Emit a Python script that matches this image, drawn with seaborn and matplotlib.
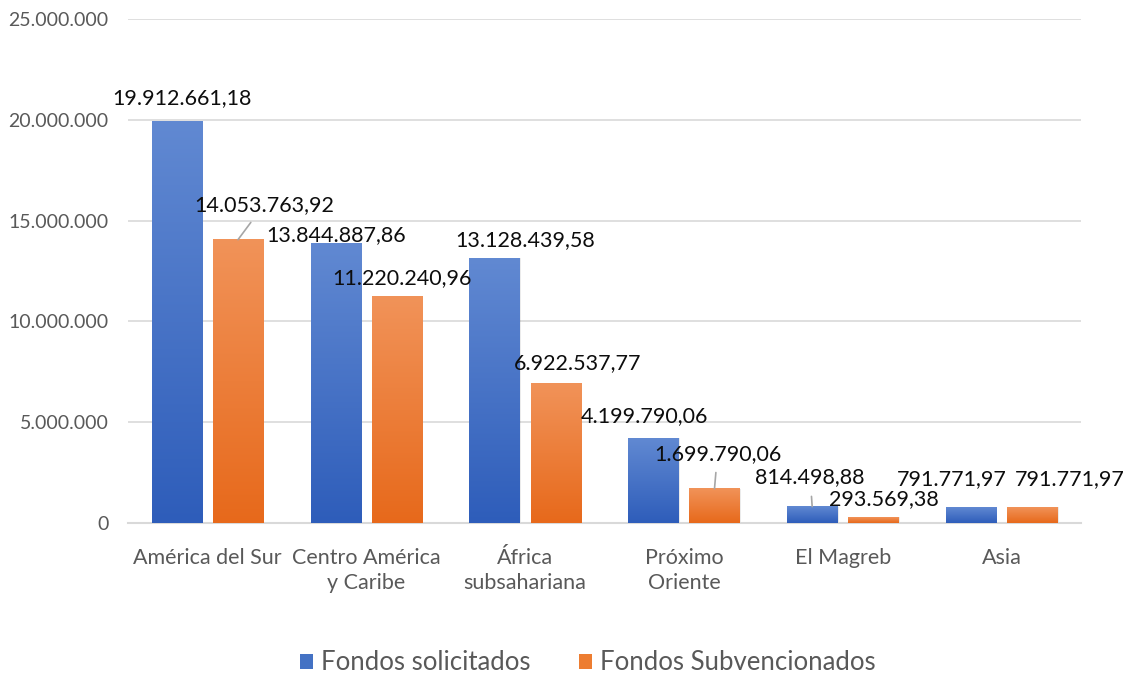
import numpy as np
import pandas as pd
import matplotlib
matplotlib.use("Agg")
import matplotlib.pyplot as plt
import seaborn as sns
from matplotlib.colors import LinearSegmentedColormap
from matplotlib.ticker import FuncFormatter, MultipleLocator
from matplotlib.patches import Patch

# ---------------- data ----------------
categories = ["América del Sur", "Centro América\ny Caribe", "África\nsubsahariana",
              "Próximo\nOriente", "El Magreb", "Asia"]
series_names = ["Fondos solicitados", "Fondos Subvencionados"]
solicitados = [19912661.18, 13844887.86, 13128439.58, 4199790.06, 814498.88, 791771.97]
subvencionados = [14053763.92, 11220240.96, 6922537.77, 1699790.06, 293569.38, 791771.97]

# ---------------- style ----------------
sns.set_style("white")
plt.rcParams["font.family"] = ["Lato", "DejaVu Sans"]

blue_top, blue_bot = "#6189D2", "#2E5DBA"
orange_top, orange_bot = "#F19359", "#E7691B"
grid_col = "#D9D9D9"
tick_col = "#595959"

# label offsets in pixels (dx, dy up) and leader-line flags
offsets = [
    [(5, 23), (0, 9), (31, 18), (-9, 22), (-2, 29), (-19, 28)],
    [(26, 35), (5, 19), (22, 20), (3, 35), (11, 18), (38, 28)],
]
leaders = [
    [False, False, False, False, True, False],
    [True, False, False, True, False, False],
]

df = pd.DataFrame({
    "region": categories * 2,
    "serie": [series_names[0]] * len(categories) + [series_names[1]] * len(categories),
    "valor": solicitados + subvencionados,
})

fig = plt.figure(figsize=(11.28, 6.75), dpi=100)
ax = fig.add_axes([128 / 1128, 1 - 523 / 675, (1081 - 128) / 1128, (523 - 19) / 675])

sns.barplot(data=df, x="region", y="valor", hue="serie", order=categories,
            hue_order=series_names, palette=[blue_bot, orange_bot],
            width=0.77, gap=0.18, errorbar=None, legend=False, ax=ax,
            linewidth=0, zorder=3)

grads = [LinearSegmentedColormap.from_list("b", [blue_bot, blue_top]),
         LinearSegmentedColormap.from_list("o", [orange_bot, orange_top])]
gvals = np.linspace(0, 1, 256).reshape(-1, 1)

def fmt_es(v):
    s = f"{v:,.2f}"
    return s.replace(",", "X").replace(".", ",").replace("X", ".")

for si, cont in enumerate(ax.containers):
    vals = solicitados if si == 0 else subvencionados
    for bi, patch in enumerate(cont.patches):
        x, w, h = patch.get_x(), patch.get_width(), patch.get_height()
        # soft shadow
        ax.add_patch(plt.Rectangle((x + 0.008, 0), w, h, color="#000000", alpha=0.08,
                                   zorder=2, linewidth=0))
        ax.imshow(gvals, extent=[x, x + w, 0, h], origin="lower", aspect="auto",
                  cmap=grads[si], zorder=4)
        xc = x + w / 2
        dx, dy = offsets[si][bi]
        arrow = None
        if leaders[si][bi]:
            arrow = dict(arrowstyle="-", color="#A6A6A6", lw=1.2,
                         shrinkA=4, shrinkB=0)
        ax.annotate(fmt_es(vals[bi]), xy=(xc, h), xytext=(dx, dy),
                    textcoords="offset pixels", ha="center", va="center",
                    fontsize=15.5, color="#0D0D0D", zorder=6, arrowprops=arrow)

ax.set_xlim(-0.5, len(categories) - 0.5)
ax.set_ylim(0, 25000000)
ax.yaxis.set_major_locator(MultipleLocator(5000000))
ax.yaxis.set_major_formatter(FuncFormatter(lambda v, p: f"{int(v):,}".replace(",", ".")))
ax.grid(axis="y", color=grid_col, linewidth=1.2, zorder=0)
ax.set_axisbelow(True)
for s in ["top", "right", "left"]:
    ax.spines[s].set_visible(False)
ax.spines["bottom"].set_color(grid_col)
ax.spines["bottom"].set_linewidth(1.5)
ax.tick_params(axis="y", length=0, labelsize=14, colors=tick_col, pad=14)
ax.tick_params(axis="x", length=0, labelsize=15.5, colors=tick_col, pad=18)
for t in ax.get_xticklabels():
    t.set_linespacing(1.3)
ax.set_xlabel("")
ax.set_ylabel("")

handles = [Patch(facecolor="#4472C4", edgecolor="none"),
           Patch(facecolor="#ED7D31", edgecolor="none")]
fig.legend(handles, series_names, loc="center", bbox_to_anchor=(0.521, 1 - 663 / 675),
           ncol=2, frameon=False, fontsize=18.5, handlelength=0.5, handleheight=0.5,
           handletextpad=0.3, columnspacing=1.9, labelcolor=tick_col)

fig.savefig("out.png", dpi=100)
